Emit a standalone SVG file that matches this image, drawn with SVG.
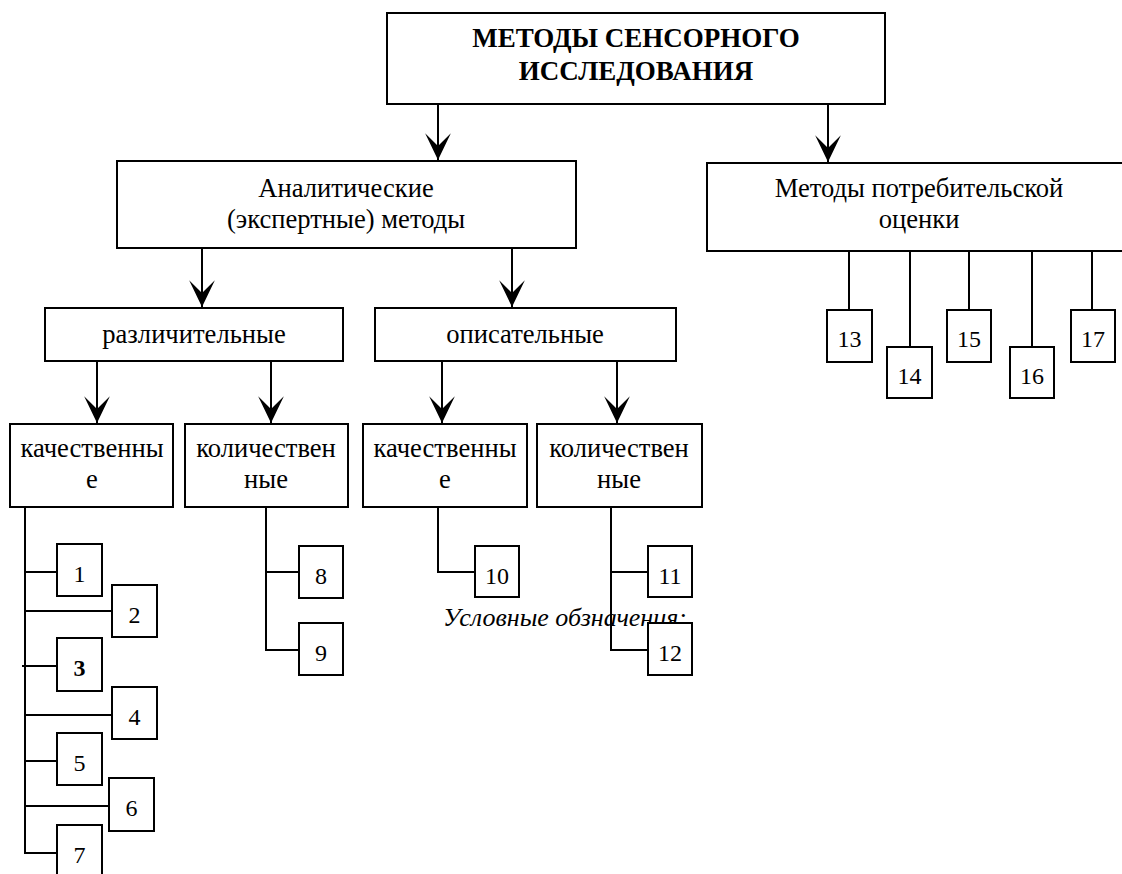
<svg xmlns="http://www.w3.org/2000/svg" width="1122" height="874" viewBox="0 0 1122 874">
<defs>
<style>
.box{fill:#fff;stroke:#000;stroke-width:2}
.ln{fill:none;stroke:#000;stroke-width:2}
.arr{fill:none;stroke:#000;stroke-width:2;marker-end:url(#ah)}
.t{font-family:"Liberation Serif","Times New Roman","DejaVu Serif",serif;font-size:26.6px;text-anchor:middle;fill:#000}
.tb{font-family:"Liberation Serif","Times New Roman","DejaVu Serif",serif;font-size:27px;font-weight:bold;text-anchor:middle;fill:#000}
.n{font-family:"Liberation Serif","Times New Roman","DejaVu Serif",serif;font-size:24px;text-anchor:middle;fill:#000}
.it{font-family:"Liberation Serif","Times New Roman","DejaVu Serif",serif;font-size:26px;font-style:italic;fill:#000}
</style>
<marker id="ah" markerUnits="userSpaceOnUse" markerWidth="30" markerHeight="30" viewBox="-26 -13 28 26" refX="0" refY="0" orient="auto">
<path d="M0,0 L-25,-12 L-13,0 L-25,12 Z" fill="#000"/>
</marker>
</defs>
<rect width="1122" height="874" fill="#fff"/>

<g id="connectors">
<line class="arr" x1="438" y1="104" x2="438" y2="160"/>
<line class="arr" x1="828" y1="104" x2="828" y2="162"/>
<line class="arr" x1="202" y1="248" x2="202" y2="307"/>
<line class="arr" x1="512" y1="248" x2="512" y2="307"/>
<line class="arr" x1="97" y1="361" x2="97" y2="423"/>
<line class="arr" x1="271" y1="361" x2="271" y2="423"/>
<line class="arr" x1="442" y1="361" x2="442" y2="423"/>
<line class="arr" x1="617" y1="361" x2="617" y2="423"/>
<polyline class="ln" points="25,507 25,853 57,853"/>
<line class="ln" x1="25" y1="572" x2="57" y2="572"/>
<line class="ln" x1="25" y1="611" x2="112" y2="611"/>
<line class="ln" x1="22" y1="666" x2="57" y2="666"/>
<line class="ln" x1="25" y1="715" x2="112" y2="715"/>
<line class="ln" x1="25" y1="761" x2="57" y2="761"/>
<line class="ln" x1="25" y1="806" x2="109" y2="806"/>
<polyline class="ln" points="266,507 266,650 299,650"/>
<line class="ln" x1="266" y1="572" x2="299" y2="572"/>
<polyline class="ln" points="438,507 438,572 475,572"/>
<line class="ln" x1="849" y1="251" x2="849" y2="310"/>
<line class="ln" x1="910" y1="251" x2="910" y2="347"/>
<line class="ln" x1="969" y1="251" x2="969" y2="310"/>
<line class="ln" x1="1032" y1="251" x2="1032" y2="347"/>
<line class="ln" x1="1092" y1="251" x2="1092" y2="310"/>
</g>

<g id="legend">
<text class="it" x="443" y="626">Условные обзначения:</text>
</g>

<g id="connectors-right-quant">
<polyline class="ln" points="611,507 611,650 648,650"/>
<line class="ln" x1="611" y1="572" x2="648" y2="572"/>
</g>

<g id="root">
<rect class="box" x="387" y="13" width="498" height="91"/>
<text class="tb" x="636" y="47">МЕТОДЫ СЕНСОРНОГО</text>
<text class="tb" x="636" y="80">ИССЛЕДОВАНИЯ</text>
</g>
<g id="analytic">
<rect class="box" x="117" y="161" width="459" height="87"/>
<text class="t" x="346" y="197">Аналитические</text>
<text class="t" x="346" y="228">(экспертные) методы</text>
</g>
<g id="consumer">
<rect class="box" x="707" y="163" width="430" height="88"/>
<text class="t" x="919" y="197">Методы потребительской</text>
<text class="t" x="919" y="228">оценки</text>
</g>
<g id="discrim">
<rect class="box" x="45" y="308" width="298" height="53"/>
<text class="t" x="194" y="343">различительные</text>
</g>
<g id="descr">
<rect class="box" x="375" y="308" width="301" height="53"/>
<text class="t" x="525" y="343">описательные</text>
</g>
<g id="qual1">
<rect class="box" x="10" y="424" width="163" height="83"/>
<text class="t" x="92" y="457">качественны</text>
<text class="t" x="92" y="488">е</text>
</g>
<g id="quant1">
<rect class="box" x="185" y="424" width="163" height="83"/>
<text class="t" x="266" y="457">количествен</text>
<text class="t" x="266" y="488">ные</text>
</g>
<g id="qual2">
<rect class="box" x="363" y="424" width="164" height="83"/>
<text class="t" x="445" y="457">качественны</text>
<text class="t" x="445" y="488">е</text>
</g>
<g id="quant2">
<rect class="box" x="537" y="424" width="165" height="83"/>
<text class="t" x="619" y="457">количествен</text>
<text class="t" x="619" y="488">ные</text>
</g>

<g id="n1"><rect class="box" x="57" y="544" width="45" height="52"/><text class="n" x="79.5" y="582">1</text></g>
<g id="n2"><rect class="box" x="112" y="585" width="45" height="52"/><text class="n" x="134.5" y="623">2</text></g>
<g id="n3"><rect class="box" x="57" y="638" width="45" height="53"/><text class="n" x="79.5" y="676" font-weight="bold">3</text></g>
<g id="n4"><rect class="box" x="112" y="687" width="45" height="52"/><text class="n" x="134.5" y="725">4</text></g>
<g id="n5"><rect class="box" x="57" y="733" width="45" height="52"/><text class="n" x="79.5" y="771">5</text></g>
<g id="n6"><rect class="box" x="109" y="778" width="45" height="53"/><text class="n" x="131.5" y="816">6</text></g>
<g id="n7"><rect class="box" x="57" y="825" width="45" height="60"/><text class="n" x="79.5" y="863">7</text></g>
<g id="n8"><rect class="box" x="299" y="546" width="44" height="52"/><text class="n" x="321" y="584">8</text></g>
<g id="n9"><rect class="box" x="299" y="623" width="44" height="52"/><text class="n" x="321" y="661">9</text></g>
<g id="n10"><rect class="box" x="475" y="546" width="44" height="51"/><text class="n" x="497" y="584">10</text></g>
<g id="n11"><rect class="box" x="648" y="546" width="44" height="51"/><text class="n" x="670" y="584">11</text></g>
<g id="n12"><rect class="box" x="648" y="623" width="44" height="52"/><text class="n" x="670" y="661">12</text></g>
<g id="n13"><rect class="box" x="827" y="310" width="45" height="52"/><text class="n" x="849.5" y="347">13</text></g>
<g id="n14"><rect class="box" x="887" y="347" width="45" height="51"/><text class="n" x="909.5" y="384">14</text></g>
<g id="n15"><rect class="box" x="947" y="310" width="44" height="52"/><text class="n" x="969" y="347">15</text></g>
<g id="n16"><rect class="box" x="1010" y="347" width="44" height="51"/><text class="n" x="1032" y="384">16</text></g>
<g id="n17"><rect class="box" x="1071" y="310" width="44" height="52"/><text class="n" x="1093" y="347">17</text></g>
</svg>
